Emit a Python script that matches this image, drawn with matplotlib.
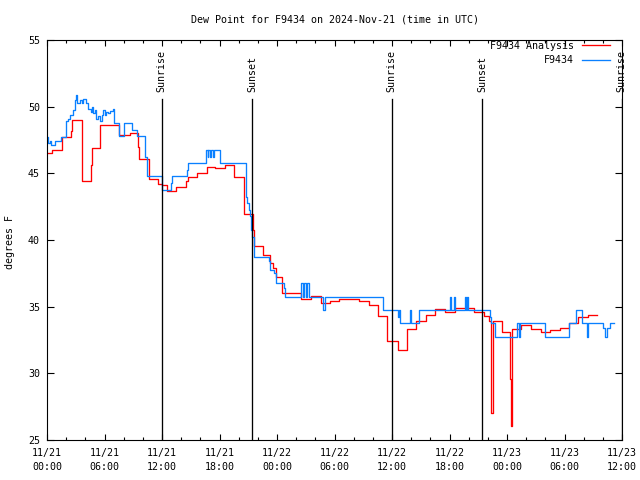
import matplotlib
matplotlib.use('Agg')
import matplotlib.pyplot as plt
import matplotlib.transforms as mtransforms

# hours since 2024-11-21 00:00 UTC, step values (deg F)
analysis_hours = [0.0, 0.5, 1.6, 2.5, 2.65, 3.6, 4.55, 4.65, 5.5, 7.5,
                  8.65, 9.45, 9.6, 10.65, 11.55, 12.05, 12.55, 13.5, 14.5, 14.7,
                  15.6, 16.65, 17.55, 18.55, 19.5, 20.55, 21.5, 21.55, 22.55, 23.25,
                  23.6, 23.9, 24.55, 25.5, 26.55, 27.55, 28.55, 29.5, 30.5, 32.6,
                  33.55, 34.5, 35.45, 36.6, 37.55, 38.5, 39.5, 40.5, 41.55, 42.6,
                  44.6, 45.55, 46.1, 46.3, 46.35, 46.55, 47.5, 48.35, 48.45, 48.55,
                  49.45, 50.55, 51.5, 52.45, 53.5, 54.5, 55.45, 56.45, 57.4]
analysis_vals = [46.5, 46.75, 47.75, 48.2, 49.0, 44.4, 45.6, 46.9, 48.6, 47.9,
                 48.0, 47.0, 46.1, 44.6, 44.2, 44.1, 43.7, 44.0, 44.4, 44.7,
                 45.0, 45.45, 45.4, 45.6, 44.7, 41.95, 40.75, 39.55, 38.9, 38.25,
                 37.9, 37.25, 36.05, 36.0, 35.55, 35.8, 35.3, 35.4, 35.55, 35.45,
                 35.1, 34.3, 32.4, 31.75, 33.3, 33.9, 34.4, 34.8, 34.6, 34.9,
                 34.6, 34.3, 33.9, 30.8, 27.05, 33.95, 33.1, 29.6, 26.05, 33.3,
                 33.6, 33.3, 33.1, 33.25, 33.4, 33.75, 34.2, 34.4, 34.4]

station_hours = [0.0, 0.1, 0.3, 0.45, 0.85, 1.5, 2.0, 2.2, 2.4, 2.75,
                 2.9, 3.0, 3.15, 3.45, 3.6, 3.8, 4.05, 4.3, 4.55, 4.65,
                 4.8, 5.0, 5.15, 5.35, 5.5, 5.7, 5.85, 6.05, 6.2, 6.4,
                 6.55, 6.85, 7.0, 7.55, 8.0, 8.9, 9.4, 10.2, 10.4, 10.45,
                 12.05, 12.9, 13.0, 14.6, 14.7, 16.6, 16.75, 16.85, 17.0, 17.15,
                 17.3, 17.45, 18.1, 20.75, 20.85, 21.05, 21.15, 21.25, 21.4, 21.55,
                 21.65, 23.15, 23.3, 23.65, 23.9, 24.7, 24.85, 26.55, 26.7, 26.85,
                 27.0, 27.15, 27.3, 28.85, 29.05, 35.05, 36.6, 36.7, 36.8, 36.85,
                 37.9, 38.0, 38.85, 42.05, 42.15, 42.5, 42.6, 43.65, 43.75, 43.8,
                 43.9, 46.2, 46.35, 46.7, 49.0, 49.25, 49.4, 51.95, 54.5, 55.25,
                 55.8, 56.3, 56.4, 58.0, 58.25, 58.45, 58.7, 59.15]
station_vals = [47.7, 47.25, 47.45, 47.1, 47.4, 47.75, 48.9, 49.1, 49.4, 49.75,
                50.5, 50.9, 50.3, 50.5, 50.3, 50.6, 50.25, 49.8, 49.6, 50.0,
                49.5, 49.75, 49.1, 49.3, 48.9, 49.35, 49.75, 49.4, 49.6, 49.5,
                49.65, 49.8, 48.8, 47.8, 48.75, 48.25, 47.8, 46.2, 45.75, 44.8,
                43.75, 44.25, 44.8, 45.25, 45.75, 46.75, 46.25, 46.75, 46.25, 46.75,
                46.25, 46.75, 45.75, 43.25, 42.75, 42.25, 41.8, 40.75, 40.25, 39.75,
                38.75, 38.4, 37.75, 37.5, 36.75, 36.4, 35.75, 36.75, 35.75, 36.75,
                35.75, 36.75, 35.75, 34.75, 35.75, 34.75, 34.25, 34.75, 34.25, 33.8,
                34.75, 33.8, 34.75, 35.7, 34.75, 35.7, 34.75, 35.7, 34.75, 35.7,
                34.75, 34.2, 33.75, 32.75, 33.8, 32.75, 33.8, 32.7, 33.8, 34.75,
                33.8, 32.75, 33.8, 33.4, 32.75, 33.4, 33.8, 33.8]

sun_hours = [11.95, 21.43, 35.95, 45.4, 59.95]
sun_labels = ['Sunrise', 'Sunset', 'Sunrise', 'Sunset', 'Sunrise']

xtick_hours = [0, 6, 12, 18, 24, 30, 36, 42, 48, 54, 60]
xtick_labels = ['11/21\n00:00', '11/21\n06:00', '11/21\n12:00', '11/21\n18:00',
                '11/22\n00:00', '11/22\n06:00', '11/22\n12:00', '11/22\n18:00',
                '11/23\n00:00', '11/23\n06:00', '11/23\n12:00']

plt.rcParams['font.family'] = 'DejaVu Sans Mono'
plt.rcParams['font.size'] = 7.2

fig = plt.figure(figsize=(6.4, 4.8), dpi=100)
ax = fig.add_axes([47/640, 40/480, 575/640, 400/480])

ax.step(analysis_hours, analysis_vals, where='post', color='#ff0000', lw=0.95,
        label='F9434 Analysis')
ax.step(station_hours, station_vals, where='post', color='#0a80ff', lw=0.95,
        label='F9434')

# sunrise / sunset markers
trans = mtransforms.blended_transform_factory(ax.transData, ax.transAxes)
for h, lab in zip(sun_hours, sun_labels):
    ax.axvline(h, ymin=0, ymax=0.8525, color='black', lw=0.95)
    ax.text(h, 0.87, lab, transform=trans, rotation=90, ha='center', va='bottom')

ax.set_xlim(0, 60)
ax.set_ylim(25, 55)
ax.set_xticks(xtick_hours)
ax.set_xticklabels(xtick_labels)
ax.set_xticks(range(0, 61, 2), minor=True)
ax.set_yticks(range(25, 56, 5))
for t in ax.get_xticklabels():
    t.set_linespacing(1.4)

ax.tick_params(which='both', direction='in', top=True, right=True, width=0.8)
ax.tick_params(axis='x', which='major', length=4.5, pad=6)
ax.tick_params(axis='x', which='minor', length=2.5)
ax.tick_params(axis='y', which='major', length=5, pad=5)
for s in ax.spines.values():
    s.set_linewidth(0.8)

ax.legend(loc='upper right', bbox_to_anchor=(0.979, 0.998), frameon=False,
          markerfirst=False, handlelength=2.8, handletextpad=0.8,
          borderaxespad=0, borderpad=0, labelspacing=0.45)

fig.text(335/640, 1 - 19/480, 'Dew Point for F9434 on 2024-Nov-21 (time in UTC)',
         ha='center', va='center')
fig.text(10/640, 1 - 242/480, 'degrees F', rotation=90, ha='center', va='center')

fig.savefig('out.png', dpi=100)
